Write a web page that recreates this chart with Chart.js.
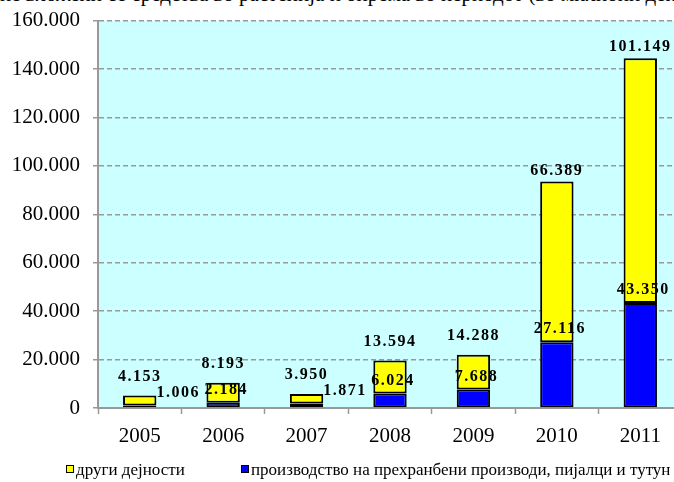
<!DOCTYPE html>
<html>
<head>
<meta charset="utf-8">
<script src="https://cdn.jsdelivr.net/npm/chart.js@4"></script>
<style>
    html, body { margin: 0; padding: 0; background: #fff; overflow: hidden; }
    #wrap { position: relative; width: 674px; height: 482px; overflow: hidden; }
    #chart { position: absolute; left: 0; top: -5px; }
    .caption {
        position: absolute; left: 0; top: -18px; white-space: nowrap;
        font: 21px "Liberation Serif", serif; color: #000;
    }
    .legend {
        position: absolute; top: 460px; white-space: nowrap;
        font: 17px "Liberation Serif", serif; color: #000;
    }
    .legend i {
        display: inline-block; width: 6px; height: 6px; border: 1.5px solid #000;
        margin-right: 2px; vertical-align: 2px;
    }
</style>
</head>
<body>
<div id="wrap">
    <div class="caption">не вложени се средства во растенија и опрема во периодот (во милиони денари) од 2005 до 2011</div>
    <canvas id="chart" width="684" height="487"></canvas>
    <div class="legend" style="left:66px"><i style="background:#ffff00"></i>други дејности</div>
    <div class="legend" style="left:241px"><i style="background:#0000ff"></i>производство на прехранбени производи, пијалци и тутун</div>
</div>
<script>
const years = ['2005', '2006', '2007', '2008', '2009', '2010', '2011'];
// thousands, bottom segment
const foodValues = [1.006, 2.184, 1.871, 6.024, 7.688, 27.116, 43.350];
// thousands, top segment
const otherValues = [4.153, 8.193, 3.950, 13.594, 14.288, 66.389, 101.149];
const yTicks = [0, 20, 40, 60, 80, 100, 120, 140, 160];

const SERIF = '"Liberation Serif", "Times New Roman", serif';

const fmt = (v) => v.toFixed(3);
const fmtTick = (v) => v === 0 ? '0' : v.toFixed(3);

const plotBackground = {
    id: 'plotBackground',
    beforeDraw: (chart) => {
        const {ctx, chartArea: a} = chart;
        ctx.save();
        ctx.fillStyle = '#ccffff';
        ctx.fillRect(a.left, a.top, a.right - a.left, a.bottom - a.top);
        ctx.restore();
    }
};

// value labels: yellow above the stack, blue just above its own segment
const valueLabels = {
    id: 'valueLabels',
    afterDatasetsDraw: (chart) => {
        const ctx = chart.ctx;
        const food = chart.getDatasetMeta(0).data;
        const other = chart.getDatasetMeta(1).data;
        const base = chart.scales.y.getPixelForValue(0);
        ctx.save();
        ctx.font = 'bold 16px ' + SERIF;
        ctx.letterSpacing = '1.5px';
        ctx.fillStyle = '#000';
        ctx.textBaseline = 'middle';
        food.forEach((bar, i) => {
            const top = other[i];
            const yellowH = bar.y - top.y;
            const half = bar.width / 2;

            const blueY = Math.min(bar.y - 13, base - 10);
            if (yellowH < 15) {
                ctx.textAlign = 'left';
                ctx.fillText(fmt(foodValues[i]), bar.x + half, blueY);
            } else {
                ctx.textAlign = 'center';
                ctx.fillText(fmt(foodValues[i]), bar.x + 3, blueY);
            }

            ctx.textAlign = 'center';
            const off = yellowH < 60 ? 19 : 11;
            ctx.fillText(fmt(otherValues[i]), top.x, top.y - off);
        });
        ctx.restore();
    }
};

new Chart(document.getElementById('chart'), {
    type: 'bar',
    data: {
        labels: years,
        datasets: [{
            label: 'производство на прехранбени производи, пијалци и тутун',
            data: foodValues,
            backgroundColor: '#0000ff',
            borderColor: '#000',
            borderWidth: 2,
            borderSkipped: false,
        }, {
            label: 'други дејности',
            data: otherValues,
            backgroundColor: '#ffff00',
            borderColor: '#000',
            borderWidth: 2,
            borderSkipped: false,
        }]
    },
    options: {
        responsive: false,
        devicePixelRatio: 1,
        animation: false,
        categoryPercentage: 1,
        barPercentage: 0.4,
        layout: { padding: { top: 15, right: 2, left: 0, bottom: 0 } },
        plugins: {
            legend: { display: false },
            tooltip: { enabled: false },
        },
        scales: {
            x: {
                stacked: true,
                afterFit: (s) => { s.height = 74; },
                grid: {
                    offset: true,
                    drawOnChartArea: false,
                    drawTicks: true,
                    tickLength: 6,
                    tickColor: '#999',
                    tickWidth: 1.5,
                },
                border: { color: '#999', width: 2 },
                ticks: {
                    color: '#000',
                    padding: 10,
                    font: { family: SERIF, size: 21 },
                },
            },
            y: {
                stacked: true,
                min: 0,
                max: 160,
                afterFit: (s) => { s.width = 98; },
                afterBuildTicks: (s) => { s.ticks = yTicks.map(v => ({value: v})); },
                grid: {
                    color: '#999',
                    lineWidth: 1.5,
                    drawTicks: true,
                    tickLength: 5,
                    tickColor: '#999',
                    tickBorderDash: [],
                },
                border: { color: '#999', width: 2, dash: [5, 3] },
                ticks: {
                    color: '#000',
                    padding: 13,
                    font: { family: SERIF, size: 21 },
                    callback: (v) => fmtTick(v),
                },
            },
        },
    },
    plugins: [plotBackground, valueLabels],
});
</script>
</body>
</html>
